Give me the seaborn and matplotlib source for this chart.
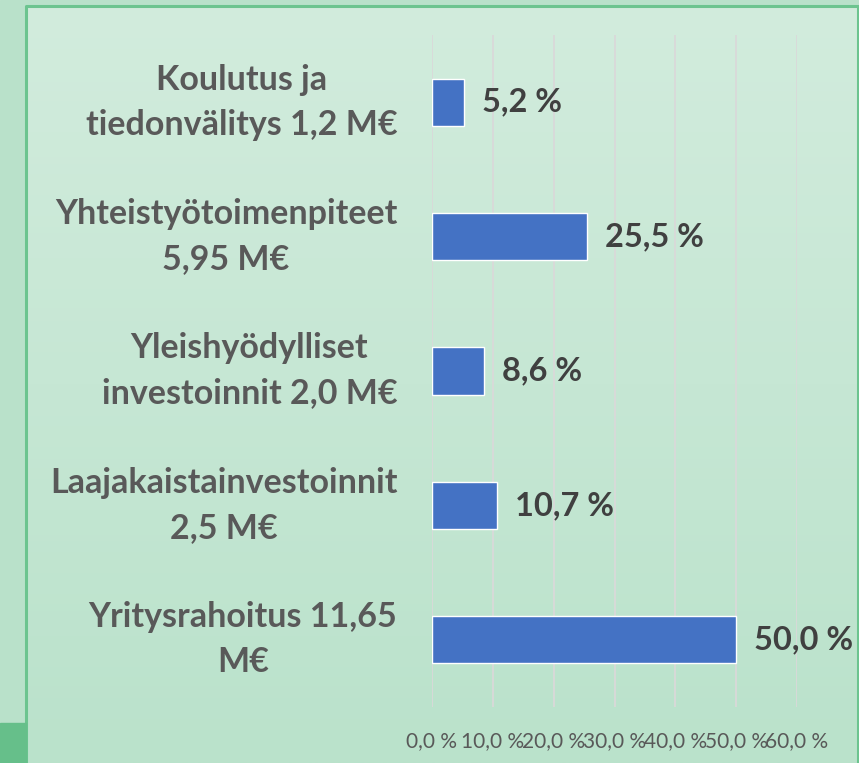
import numpy as np
import pandas as pd
import matplotlib
matplotlib.use("Agg")
import matplotlib.pyplot as plt
import seaborn as sns
from matplotlib.patches import Rectangle
from matplotlib.colors import LinearSegmentedColormap

categories = [
    "Koulutus ja\ntiedonvälitys 1,2 M€",
    "Yhteistyötoimenpiteet\n5,95 M€",
    "Yleishyödylliset\ninvestoinnit 2,0 M€",
    "Laajakaistainvestoinnit\n2,5 M€",
    "Yritysrahoitus 11,65\nM€",
]
shares = [5.2, 25.5, 8.6, 10.7, 50.0]
value_labels = ["5,2 %", "25,5 %", "8,6 %", "10,7 %", "50,0 %"]
x_ticks = [0, 10, 20, 30, 40, 50, 60]
x_ticklabels = ["0,0 %", "10,0 %", "20,0 %", "30,0 %", "40,0 %", "50,0 %", "60,0 %"]

sns.set_theme(style="white")
plt.rcParams["font.family"] = ["Lato", "DejaVu Sans"]

W, H = 859, 763
fig = plt.figure(figsize=(W / 100, H / 100), dpi=100)

# background
bg = fig.add_axes([0, 0, 1, 1], zorder=-10)
bg.set_xlim(0, W)
bg.set_ylim(H, 0)
bg.axis("off")
bg.add_patch(Rectangle((0, 0), W, H, color="#b9e1ca", zorder=0))
cmap = LinearSegmentedColormap.from_list("g", ["#d2ecdd", "#bae2cb"])
grad = np.linspace(0, 1, 256).reshape(-1, 1)
bg.imshow(grad, cmap=cmap, extent=[26, W, H, 5], aspect="auto", zorder=1)
bg.plot([26, 26, W - 1, W - 1], [H, 5.5, 5.5, H], color="#6cc48f", lw=2.2, zorder=2)
bg.add_patch(Rectangle((0, 723), 26, 40, color="#66bf8a", zorder=3))
bg.set_xlim(0, W)
bg.set_ylim(H, 0)

ax = fig.add_axes([432 / W, 1 - 707 / H, (797 - 432) / W, 672 / H])
ax.patch.set_alpha(0)
df = pd.DataFrame({"cat": categories, "share": shares})
sns.barplot(data=df, x="share", y="cat", ax=ax, color="#4472C4", saturation=1,
            width=0.35, zorder=3)
ax.set_xlim(0, 60)
ax.set_xticks(x_ticks)
ax.set_xticklabels(x_ticklabels, fontsize=15, color="#595959")
ax.tick_params(axis="x", length=0, pad=17)
ax.tick_params(axis="y", length=0, pad=25)
ax.set_yticks(range(len(categories)))
ax.set_yticklabels(categories, fontsize=24.5, fontweight="bold", color="#595959",
                   multialignment="center", linespacing=1.5, va="center")
ax.grid(axis="x", color="#d9d9d9", lw=1.3, zorder=0)
ax.set_axisbelow(True)
for s in ax.spines.values():
    s.set_visible(False)
ax.set_xlabel("")
ax.set_ylabel("")
for i, (v, lab) in enumerate(zip(shares, value_labels)):
    ax.annotate(lab, (v, i), xytext=(13, 0), textcoords="offset points",
                va="center", ha="left", fontsize=23.5, fontweight="bold", color="#404040")

fig.savefig("out.png", dpi=100)
